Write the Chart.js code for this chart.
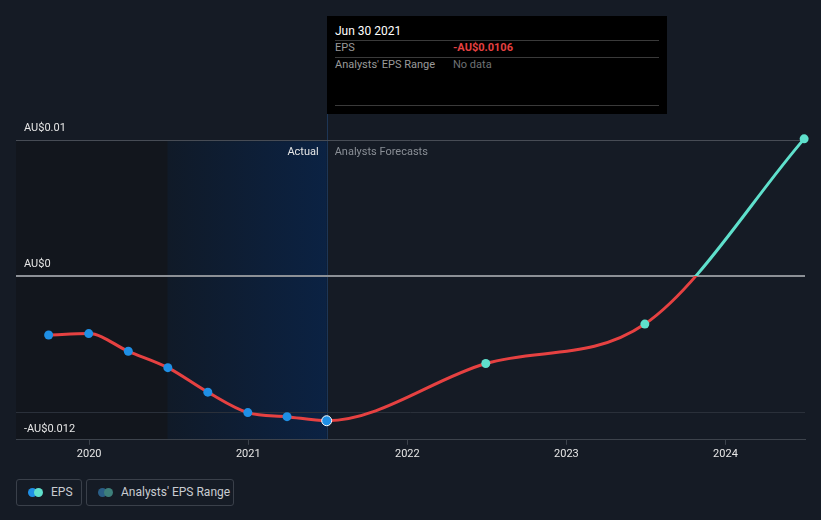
<!DOCTYPE html>
<html>
<head>
<meta charset="utf-8">
<script src="https://cdn.jsdelivr.net/npm/chart.js@4.4.1/dist/chart.umd.min.js"></script>
<style>
    body { margin: 0; background: #151b25; font-family: Roboto, sans-serif; }
    #wrap { position: relative; width: 821px; height: 520px; overflow: hidden; }
    #chartBox { position: absolute; left: 0; top: 0; width: 821px; height: 470px; }
    #tip { position: absolute; left: 327px; top: 16px; width: 340px; height: 98px; background: #000; color: #fff; font-size: 11px; }
    #tip .row { position: absolute; left: 8px; right: 8px; border-top: 1px solid #3a3a3a; }
    #tip .lbl { position: absolute; left: 8px; color: #9a9a9a; }
    #tip .val { position: absolute; left: 126px; }
    .legend { position: absolute; top: 479px; height: 27px; border: 1px solid #3a404a; border-radius: 3px; box-sizing: border-box; color: #c9ccd1; font-size: 12px; line-height: 25px; }
    .dots { position: absolute; left: 11px; top: 8px; width: 16px; height: 9px; }
    .dots span { position: absolute; top: 0; width: 9px; height: 9px; border-radius: 50%; }
</style>
</head>
<body>
<div id="wrap">
    <div id="chartBox"><canvas id="epsChart"></canvas></div>

    <div id="tip">
        <div style="position:absolute;left:8px;top:8px;font-size:12px;color:#fff;">Jun 30 2021</div>
        <div class="row" style="top:24px;"></div>
        <div class="lbl" style="top:25px;">EPS</div>
        <div class="val" style="top:25px;color:#e64141;font-weight:bold;">-AU$0.0106</div>
        <div class="row" style="top:41px;"></div>
        <div class="lbl" style="top:42px;">Analysts' EPS Range</div>
        <div class="val" style="top:42px;color:#6f7275;">No data</div>
        <div class="row" style="top:89px;"></div>
    </div>

    <div class="legend" style="left:16px;width:66px;">
        <div class="dots"><span style="left:0;background:#1f8fe5;"></span><span style="left:6px;background:#5fe0cc;"></span></div>
        <span style="position:absolute;left:34px;">EPS</span>
    </div>
    <div class="legend" style="left:86px;width:148px;">
        <div class="dots"><span style="left:0;background:#2a5e86;"></span><span style="left:6px;background:#3d7f7a;"></span></div>
        <span style="position:absolute;left:34px;">Analysts' EPS Range</span>
    </div>
</div>

<script>
// EPS actuals (AU$) and analyst forecasts
var actualDates = ['2019-09-30', '2019-12-31', '2020-03-31', '2020-06-30', '2020-09-30', '2020-12-31', '2021-03-31', '2021-06-30'];
var actualEps = [-0.0043, -0.0042, -0.0055, -0.0067, -0.0085, -0.0100, -0.0103, -0.0106];
var forecastDates = ['2022-06-30', '2023-06-30', '2024-06-30'];
var forecastEps = [-0.0064, -0.0035, 0.0101];
var yearTicks = [2020, 2021, 2022, 2023, 2024];
var yTickValues = [-0.012, -0.01, 0, 0.01];
var yTickLabels = { '-0.012': '-AU$0.012', '0': 'AU$0', '0.01': 'AU$0.01' };

var RED = '#e64141', TEAL = '#5fe0cc', BLUE = '#1f8fe5';

function toYear(s) {
    var d = new Date(s + 'T00:00:00Z');
    var start = Date.UTC(d.getUTCFullYear(), 0, 1);
    var end = Date.UTC(d.getUTCFullYear() + 1, 0, 1);
    return d.getUTCFullYear() + (d - start) / (end - start);
}

var points = [];
actualDates.forEach(function(d, i) { points.push({ x: toYear(d), y: actualEps[i], forecast: false }); });
forecastDates.forEach(function(d, i) { points.push({ x: toYear(d), y: forecastEps[i], forecast: true }); });
var lastActual = actualDates.length - 1;
var splitX = toYear(actualDates[lastActual]);

// background regions under the grid, labels over the line
var backdrop = {
    id: 'backdrop',
    beforeDraw: function(chart) {
        var c = chart.ctx, a = chart.chartArea, xs = chart.scales.x, ys = chart.scales.y;
        var top = ys.getPixelForValue(0.01) + 1;
        var xSplit = xs.getPixelForValue(splitX);
        var xYear = xs.getPixelForValue(splitX - 1);
        c.save();
        c.fillStyle = '#12161d';
        c.fillRect(a.left, top, xYear - a.left, a.bottom - top);
        var g = c.createLinearGradient(xYear, 0, xSplit, 0);
        g.addColorStop(0, '#101a28');
        g.addColorStop(1, '#0b2243');
        c.fillStyle = g;
        c.fillRect(xYear, top, xSplit - xYear, a.bottom - top);
        c.strokeStyle = '#1d3656';
        c.lineWidth = 1;
        c.beginPath();
        c.moveTo(Math.round(xSplit) + 0.5, a.top);
        c.lineTo(Math.round(xSplit) + 0.5, a.bottom);
        c.stroke();
        c.font = '11px Roboto';
        c.textBaseline = 'middle';
        c.textAlign = 'right';
        c.fillStyle = '#e6e6e6';
        c.fillText('Actual', xSplit - 8, top + 11);
        c.textAlign = 'left';
        c.fillStyle = '#8a8f96';
        c.fillText('Analysts Forecasts', xSplit + 8, top + 11);
        c.restore();
    },
    afterDatasetsDraw: function(chart) {
        var c = chart.ctx, a = chart.chartArea, ys = chart.scales.y;
        c.save();
        c.font = '11px Roboto';
        c.fillStyle = '#e6e6e6';
        c.textAlign = 'left';
        c.textBaseline = 'alphabetic';
        [0.01, 0].forEach(function(v) {
            c.fillText(yTickLabels[String(v)], a.left + 8, ys.getPixelForValue(v) - 9);
        });
        c.fillText(yTickLabels['-0.012'], a.left + 8, ys.getPixelForValue(-0.012) - 8);
        c.restore();
    }
};

function lineColor(ctx) {
    var chart = ctx.chart, a = chart.chartArea;
    if (!a) return RED;
    var y0 = chart.scales.y.getPixelForValue(0);
    var f = (y0 - a.top) / (a.bottom - a.top);
    var g = chart.ctx.createLinearGradient(0, a.top, 0, a.bottom);
    g.addColorStop(0, TEAL);
    g.addColorStop(f, TEAL);
    g.addColorStop(f, RED);
    g.addColorStop(1, RED);
    return g;
}

var ctx = document.getElementById('epsChart').getContext('2d');
var epsChart = new Chart(ctx, {
    type: 'line',
    data: {
        datasets: [{
            label: 'EPS',
            data: points,
            borderColor: lineColor,
            borderWidth: 3,
            cubicInterpolationMode: 'monotone',
            pointRadius: function(c) { return c.dataIndex === lastActual ? 5 : 4.5; },
            pointBackgroundColor: function(c) { return c.raw && c.raw.forecast ? TEAL : BLUE; },
            pointBorderColor: function(c) { return c.dataIndex === lastActual ? '#ffffff' : 'rgba(0,0,0,0)'; },
            pointBorderWidth: function(c) { return c.dataIndex === lastActual ? 1 : 0; },
            clip: false
        }]
    },
    options: {
        responsive: true,
        maintainAspectRatio: false,
        animation: false,
        layout: { padding: { left: 16, right: 16, top: 113, bottom: 6 } },
        plugins: { legend: { display: false }, tooltip: { enabled: false } },
        scales: {
            x: {
                type: 'linear',
                min: 2019.54,
                max: 2024.5,
                afterBuildTicks: function(scale) { scale.ticks = yearTicks.map(function(v) { return { value: v }; }); },
                ticks: { color: '#e6e6e6', font: { family: 'Roboto', size: 11 }, padding: 3, maxRotation: 0, callback: function(v) { return String(v); } },
                grid: { drawOnChartArea: false, color: '#3d434c', tickLength: 5 },
                border: { color: '#3d434c', width: 1 }
            },
            y: {
                min: -0.012,
                max: 0.012,
                afterBuildTicks: function(scale) { scale.ticks = yTickValues.map(function(v) { return { value: v }; }); },
                ticks: { display: false },
                grid: {
                    drawTicks: false,
                    color: function(c) {
                        var v = c.tick && c.tick.value;
                        if (v === 0) return '#8c9096';
                        if (v === 0.01) return '#474c55';
                        if (v === -0.01) return '#2a303a';
                        return 'rgba(0,0,0,0)';
                    },
                    lineWidth: function(c) { return c.tick && c.tick.value === 0 ? 2 : 1; }
                },
                border: { display: false }
            }
        }
    },
    plugins: [backdrop]
});
</script>
</body>
</html>
